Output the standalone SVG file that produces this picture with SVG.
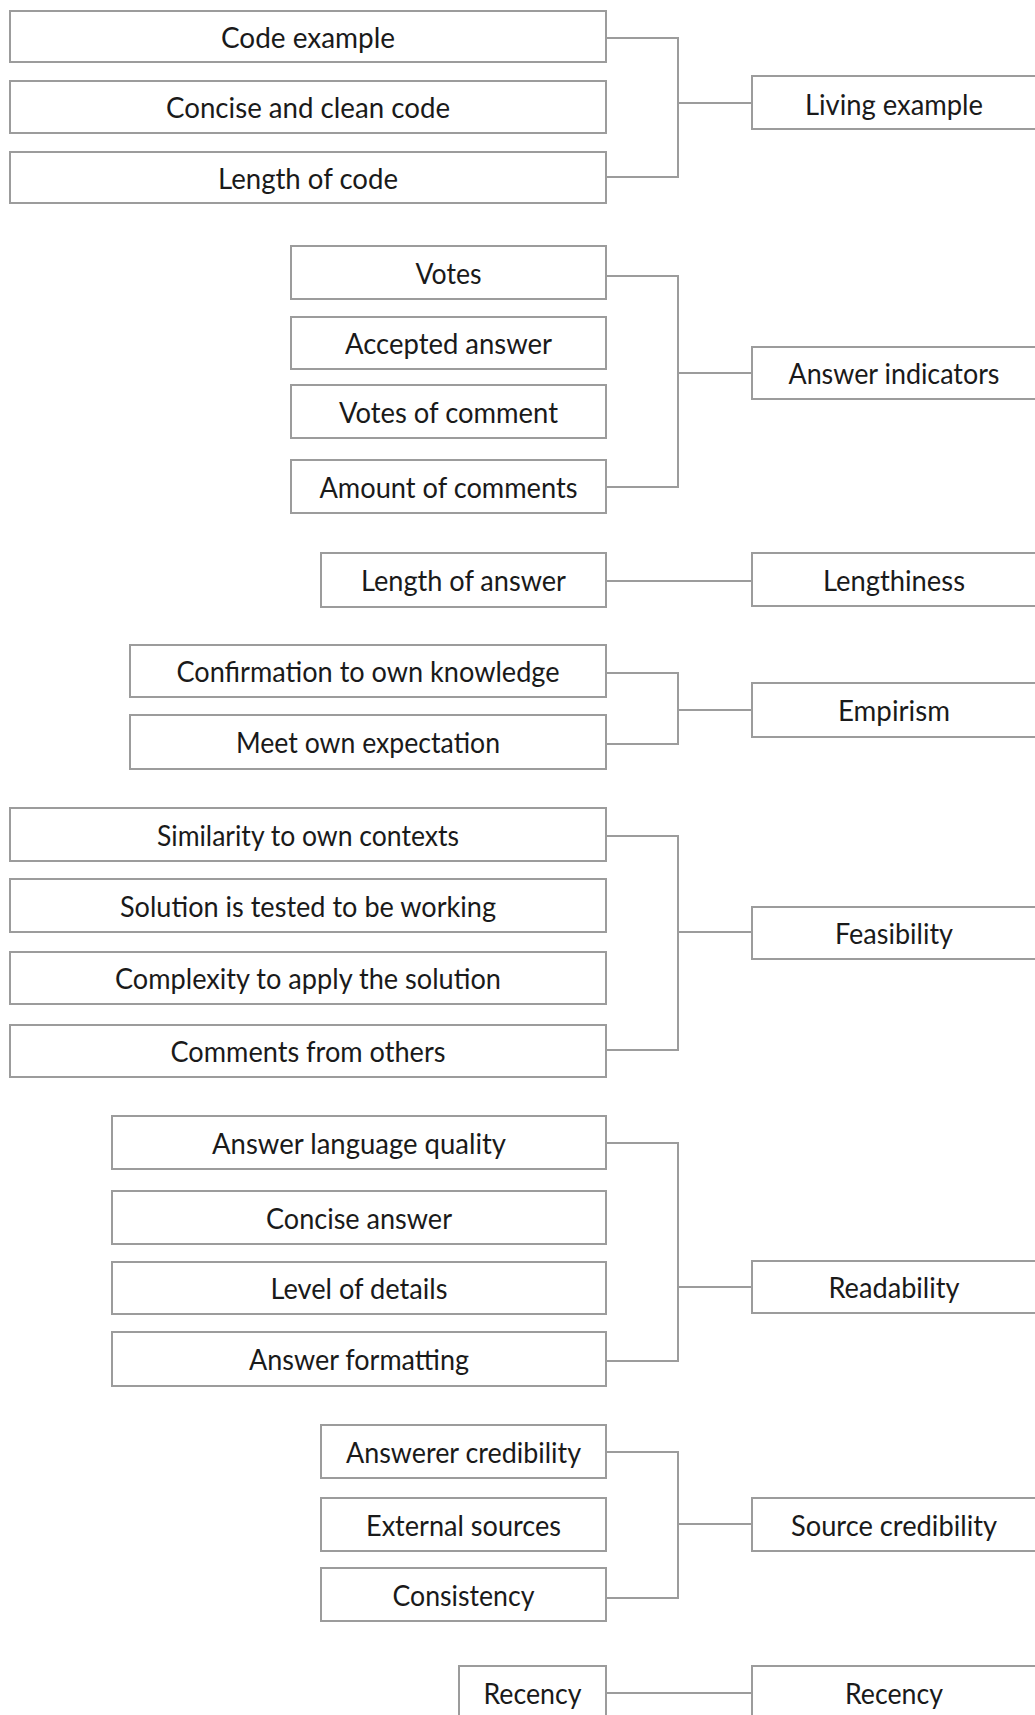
<svg xmlns="http://www.w3.org/2000/svg" width="1035" height="1715" viewBox="0 0 1035 1715">
<style>
.box{fill:#fff;stroke:#9c9c9c;stroke-width:2}
.lbl{font-family:Lato,"Liberation Sans",sans-serif;font-weight:400;font-size:29px;fill:#1a1a1a;text-anchor:middle}
.con{fill:none;stroke:#9c9c9c;stroke-width:2}
</style>
<rect width="1035" height="1715" fill="#fff"/>
<g id="connectors">
<path class="con" d="M606 38H678V177H606M678 103H752"/>
<path class="con" d="M606 276H678V487H606M678 373H752"/>
<path class="con" d="M606 581H752"/>
<path class="con" d="M606 673H678V744H606M678 710H752"/>
<path class="con" d="M606 836H678V1050H606M678 932H752"/>
<path class="con" d="M606 1143H678V1361H606M678 1287H752"/>
<path class="con" d="M606 1452H678V1598H606M678 1524H752"/>
<path class="con" d="M606 1693H752"/>
</g>
<g id="n-code-example"><rect class="box" x="10" y="11" width="596" height="51"/><text class="lbl" x="308" y="47.5" textLength="174" lengthAdjust="spacingAndGlyphs">Code example</text></g>
<g id="n-concise-clean"><rect class="box" x="10" y="81" width="596" height="52"/><text class="lbl" x="308" y="118" textLength="284" lengthAdjust="spacingAndGlyphs">Concise and clean code</text></g>
<g id="n-length-code"><rect class="box" x="10" y="152" width="596" height="51"/><text class="lbl" x="308" y="188.5" textLength="180" lengthAdjust="spacingAndGlyphs">Length of code</text></g>
<g id="n-living-example"><rect class="box" x="752" y="76" width="300" height="53"/><text class="lbl" x="894" y="115" textLength="178" lengthAdjust="spacingAndGlyphs">Living example</text></g>

<g id="n-votes"><rect class="box" x="291" y="246" width="315" height="53"/><text class="lbl" x="448.5" y="283.5" textLength="66" lengthAdjust="spacingAndGlyphs">Votes</text></g>
<g id="n-accepted"><rect class="box" x="291" y="317" width="315" height="52"/><text class="lbl" x="448.5" y="354" textLength="207" lengthAdjust="spacingAndGlyphs">Accepted answer</text></g>
<g id="n-votes-comment"><rect class="box" x="291" y="385" width="315" height="53"/><text class="lbl" x="448.5" y="422.5" textLength="219" lengthAdjust="spacingAndGlyphs">Votes of comment</text></g>
<g id="n-amount-comments"><rect class="box" x="291" y="460" width="315" height="53"/><text class="lbl" x="448.5" y="497.5" textLength="258" lengthAdjust="spacingAndGlyphs">Amount of comments</text></g>
<g id="n-answer-indicators"><rect class="box" x="752" y="347" width="300" height="52"/><text class="lbl" x="894" y="384" textLength="211" lengthAdjust="spacingAndGlyphs">Answer indicators</text></g>

<g id="n-length-answer"><rect class="box" x="321" y="553" width="285" height="54"/><text class="lbl" x="463.5" y="591" textLength="205" lengthAdjust="spacingAndGlyphs">Length of answer</text></g>
<g id="n-lengthiness"><rect class="box" x="752" y="553" width="300" height="53"/><text class="lbl" x="894" y="590.5" textLength="142" lengthAdjust="spacingAndGlyphs">Lengthiness</text></g>

<g id="n-confirmation"><rect class="box" x="130" y="645" width="476" height="52"/><text class="lbl" x="368" y="682" textLength="383" lengthAdjust="spacingAndGlyphs">Confirmation to own knowledge</text></g>
<g id="n-meet-expectation"><rect class="box" x="130" y="715" width="476" height="54"/><text class="lbl" x="368" y="753" textLength="264" lengthAdjust="spacingAndGlyphs">Meet own expectation</text></g>
<g id="n-empirism"><rect class="box" x="752" y="683" width="300" height="54"/><text class="lbl" x="894" y="721" textLength="112" lengthAdjust="spacingAndGlyphs">Empirism</text></g>

<g id="n-similarity"><rect class="box" x="10" y="808" width="596" height="53"/><text class="lbl" x="308" y="845.5" textLength="302" lengthAdjust="spacingAndGlyphs">Similarity to own contexts</text></g>
<g id="n-solution-tested"><rect class="box" x="10" y="879" width="596" height="53"/><text class="lbl" x="308" y="916.5" textLength="376" lengthAdjust="spacingAndGlyphs">Solution is tested to be working</text></g>
<g id="n-complexity"><rect class="box" x="10" y="952" width="596" height="52"/><text class="lbl" x="308" y="989" textLength="386" lengthAdjust="spacingAndGlyphs">Complexity to apply the solution</text></g>
<g id="n-comments-others"><rect class="box" x="10" y="1025" width="596" height="52"/><text class="lbl" x="308" y="1062" textLength="275" lengthAdjust="spacingAndGlyphs">Comments from others</text></g>
<g id="n-feasibility"><rect class="box" x="752" y="907" width="300" height="52"/><text class="lbl" x="894" y="944" textLength="118" lengthAdjust="spacingAndGlyphs">Feasibility</text></g>

<g id="n-language-quality"><rect class="box" x="112" y="1116" width="494" height="53"/><text class="lbl" x="359" y="1153.5" textLength="294" lengthAdjust="spacingAndGlyphs">Answer language quality</text></g>
<g id="n-concise-answer"><rect class="box" x="112" y="1191" width="494" height="53"/><text class="lbl" x="359" y="1228.5" textLength="186" lengthAdjust="spacingAndGlyphs">Concise answer</text></g>
<g id="n-level-details"><rect class="box" x="112" y="1262" width="494" height="52"/><text class="lbl" x="359" y="1299" textLength="177" lengthAdjust="spacingAndGlyphs">Level of details</text></g>
<g id="n-formatting"><rect class="box" x="112" y="1332" width="494" height="54"/><text class="lbl" x="359" y="1370" textLength="220" lengthAdjust="spacingAndGlyphs">Answer formatting</text></g>
<g id="n-readability"><rect class="box" x="752" y="1261" width="300" height="52"/><text class="lbl" x="894" y="1298" textLength="131" lengthAdjust="spacingAndGlyphs">Readability</text></g>

<g id="n-answerer-cred"><rect class="box" x="321" y="1425" width="285" height="53"/><text class="lbl" x="463.5" y="1462.5" textLength="235" lengthAdjust="spacingAndGlyphs">Answerer credibility</text></g>
<g id="n-external-sources"><rect class="box" x="321" y="1498" width="285" height="53"/><text class="lbl" x="463.5" y="1535.5" textLength="195" lengthAdjust="spacingAndGlyphs">External sources</text></g>
<g id="n-consistency"><rect class="box" x="321" y="1568" width="285" height="53"/><text class="lbl" x="463.5" y="1605.5" textLength="142" lengthAdjust="spacingAndGlyphs">Consistency</text></g>
<g id="n-source-cred"><rect class="box" x="752" y="1498" width="300" height="53"/><text class="lbl" x="894" y="1535.5" textLength="206" lengthAdjust="spacingAndGlyphs">Source credibility</text></g>

<g id="n-recency-left"><rect class="box" x="459" y="1666" width="147" height="60"/><text class="lbl" x="532.5" y="1704" textLength="98" lengthAdjust="spacingAndGlyphs">Recency</text></g>
<g id="n-recency-right"><rect class="box" x="752" y="1666" width="300" height="60"/><text class="lbl" x="894" y="1704" textLength="98" lengthAdjust="spacingAndGlyphs">Recency</text></g>
</svg>
